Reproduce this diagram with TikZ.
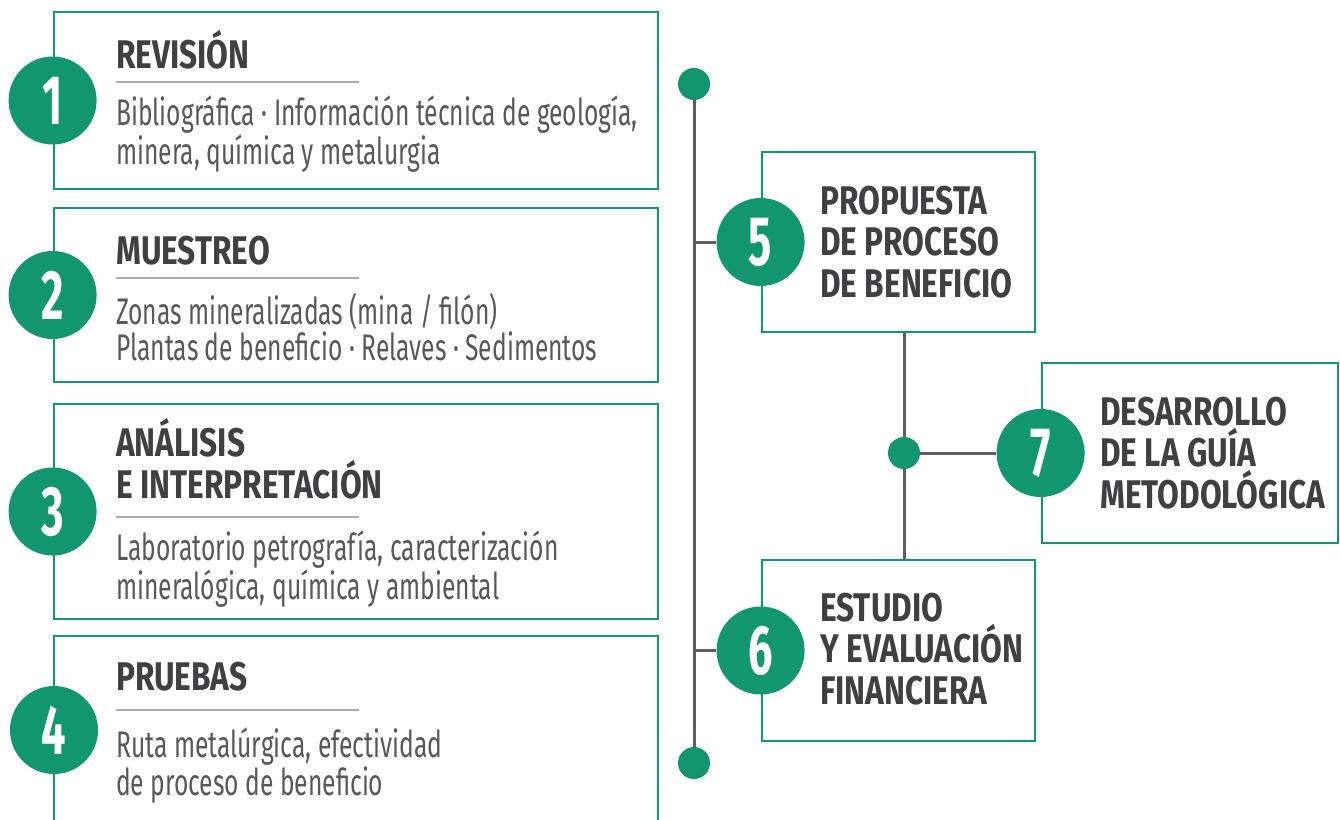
\documentclass[tikz,border=0pt]{standalone}
\usepackage{fontspec}
\setmainfont{Fira Sans}
\newfontfamily\titfont{Fira Sans}[FakeStretch=0.79]
\newfontfamily\desfont{Fira Sans}[FakeStretch=0.665]
\newfontfamily\numfont{Fira Sans}[FakeStretch=0.62]
\definecolor{verde}{HTML}{12966F}
\definecolor{oscuro}{HTML}{404042}
\definecolor{gris}{HTML}{58585A}
\definecolor{eje}{HTML}{5E5E5E}
\definecolor{regla}{HTML}{ABABAB}
\tikzset{
  caja/.style={draw=verde,line width=2.8pt,inner sep=0pt},
  numero/.style={circle,fill=verde,minimum size=88pt,inner sep=0pt,text=white,font=\numfont\bfseries\fontsize{70}{70}\selectfont},
  punto/.style={circle,fill=verde,minimum size=32pt,inner sep=0pt},
  titulo/.style={anchor=base west,inner sep=0pt,align=left,text=oscuro,font=\titfont\bfseries\fontsize{40}{41.5}\selectfont},
  texto/.style={anchor=base west,inner sep=0pt,align=left,text=gris,font=\desfont\fontsize{37}{35.5}\selectfont},
  linea/.style={draw=eje,line width=3pt},
  raya/.style={draw=regla,line width=2.5pt}
}
\begin{document}
\begin{tikzpicture}[x=1pt,y=-1pt]
\useasboundingbox (0,0) rectangle (1340,819);
\node[caja,minimum width=604pt,minimum height=177pt] (b1) at (356,100.5) {};
\node[caja,minimum width=604pt,minimum height=174pt] (b2) at (356,295) {};
\node[caja,minimum width=604pt,minimum height=215pt] (b3) at (356,511.5) {};
\draw[caja] (54,830) -- (54,636) -- (658,636) -- (658,830);
\coordinate (b4) at (54,730);
\node[caja,minimum width=273pt,minimum height=180pt] (b5) at (898.5,242) {};
\node[caja,minimum width=273pt,minimum height=181pt] (b6) at (898.5,650.5) {};
\node[caja,minimum width=296pt,minimum height=180pt] (b7) at (1190,453) {};
\node[numero] (n1) at (b1.west) {1};
\node[numero] (n2) at (b2.west) {2};
\node[numero] (n3) at (b3.west) {3};
\node[numero] (n4) at (b4) {4};
\node[numero] (n5) at (b5.west) {5};
\node[numero] (n6) at (b6.west) {6};
\node[numero] (n7) at (b7.west) {7};
\node[punto] (t1) at (694,84) {};
\node[punto] (t2) at (694,763) {};
\node[punto] (m) at (904,453) {};
\draw[linea] (t1) -- (t2);
\draw[linea] (n5 -| t1) -- (n5);
\draw[linea] (n6 -| t1) -- (n6);
\draw[linea] (m |- b5.south) -- (m);
\draw[linea] (m) -- (m |- b6.north);
\draw[linea] (m) -- (n7);
\node[titulo] (h1) at (116,68) {REVISIÓN};
\node[titulo] (h2) at (116,264) {MUESTREO};
\node[titulo] (h3) at (116,498) {ANÁLISIS\\E INTERPRETACIÓN};
\node[titulo] (h4) at (116,690) {PRUEBAS};
\node[titulo] (h5) at (820,297) {PROPUESTA\\DE PROCESO\\DE BENEFICIO};
\node[titulo] (h6) at (820,704) {ESTUDIO\\Y EVALUACIÓN\\FINANCIERA};
\node[titulo] (h7) at (1100,508) {DESARROLLO\\DE LA GUÍA\\METODOLÓGICA};
\draw[raya] (116,82) -- (359,82);
\draw[raya] (116,278) -- (359,278);
\draw[raya] (116,517) -- (359,517);
\draw[raya] (116,710) -- (359,710);
\node[texto] (d1) at (116,164) {Bibliográfica · Información técnica de geología,\\minera, química y metalurgia};
\node[texto] (d2) at (116,360) {Zonas mineralizadas (mina / filón)\\Plantas de beneficio · Relaves · Sedimentos};
\node[texto] (d3) at (116,599) {Laboratorio petrografía, caracterización\\mineralógica, química y ambiental};
\node[texto] (d4) at (116,795) {Ruta metalúrgica, efectividad\\de proceso de beneficio};
\end{tikzpicture}
\end{document}
